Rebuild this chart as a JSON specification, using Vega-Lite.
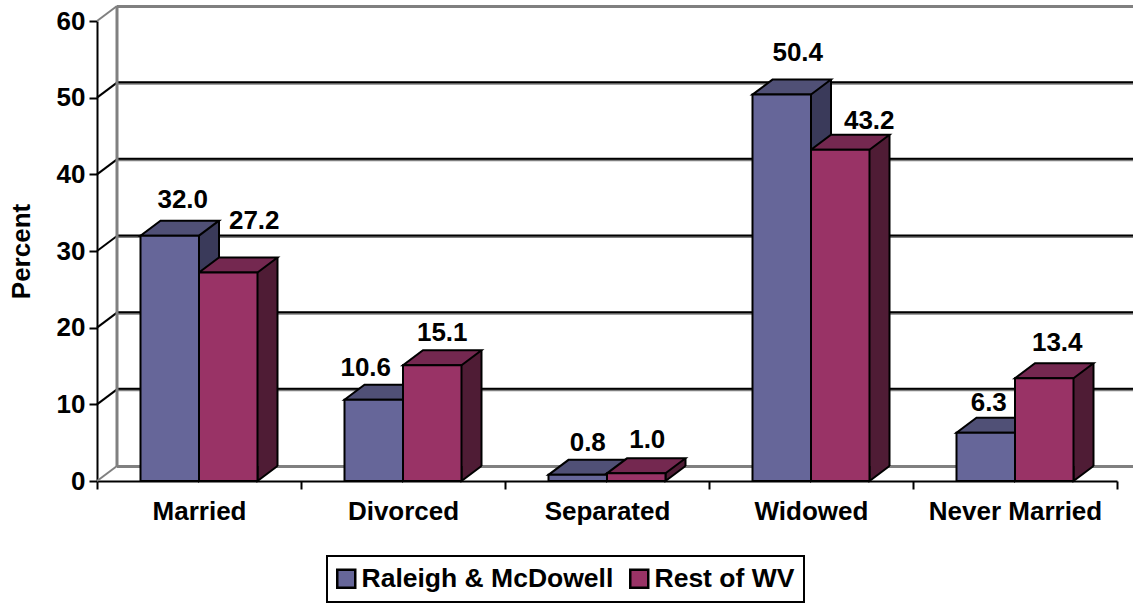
{"$schema":"https://vega.github.io/schema/vega-lite/v6.json","width":1020,"height":460,"autosize":"none","padding":{"left":97,"top":21,"right":16,"bottom":123},"background":"white",
"config":{"font":"Liberation Sans","view":{"stroke":null},"text":{"font":"Liberation Sans"}},
"datasets":{"bars":[
{"category":"Married","series":"Raleigh & McDowell","value":32.0},{"category":"Married","series":"Rest of WV","value":27.2},
{"category":"Divorced","series":"Raleigh & McDowell","value":10.6},{"category":"Divorced","series":"Rest of WV","value":15.1},
{"category":"Separated","series":"Raleigh & McDowell","value":0.8},{"category":"Separated","series":"Rest of WV","value":1.0},
{"category":"Widowed","series":"Raleigh & McDowell","value":50.4},{"category":"Widowed","series":"Rest of WV","value":43.2},
{"category":"Never Married","series":"Raleigh & McDowell","value":6.3},{"category":"Never Married","series":"Rest of WV","value":13.4}],
"ticks":[{"tick":0},{"tick":10},{"tick":20},{"tick":30},{"tick":40},{"tick":50},{"tick":60}],
"wall":[{"low":0,"high":60}]},
"layer":[
{"data":{"name":"ticks"},"mark":{"type":"rule","stroke":"#808080","strokeWidth":3,"yOffset":-14.5,"y2Offset":-14.5},"encoding":{"x":{"value":20},"x2":{"value":1040},"y":{"field":"tick","type":"quantitative","scale":{"domain":[0,60],"nice":false},"title":"Percent","axis":{"values":[0,10,20,30,40,50,60],"grid":false,"domainColor":"black","domainWidth":2,"tickColor":"black","tickWidth":2,"tickSize":8,"labelFontSize":26,"labelFontWeight":"bold","labelColor":"black","labelPadding":4,"titleFontSize":26,"titleFontWeight":"bold","titleColor":"black","titlePadding":22}}}},
{"data":{"name":"ticks"},"transform":[{"filter":"datum.tick>0&&datum.tick<60"}],"mark":{"type":"rule","stroke":"black","strokeWidth":2,"yOffset":-15.5,"y2Offset":-15.5},"encoding":{"x":{"value":20},"x2":{"value":1040},"y":{"field":"tick","type":"quantitative"}}},
{"data":{"name":"ticks"},"mark":{"type":"point","shape":"M0,0L20,-15","size":4,"filled":false,"strokeWidth":2,"opacity":1},"encoding":{"x":{"value":0},"y":{"field":"tick","type":"quantitative"},"stroke":{"condition":{"test":"datum.tick==0||datum.tick==60","value":"#808080"},"value":"black"}}},
{"data":{"name":"wall"},"mark":{"type":"rule","stroke":"#808080","strokeWidth":3,"xOffset":20,"yOffset":-15,"y2Offset":-15},"encoding":{"x":{"value":0},"y":{"field":"high","type":"quantitative"},"y2":{"field":"low"}}},
{"data":{"name":"bars"},
"encoding":{"x":{"field":"category","type":"nominal","sort":["Married","Divorced","Separated","Widowed","Never Married"],"scale":{"paddingInner":0,"paddingOuter":0,"round":false},"title":null,"axis":{"tickBand":"extent","labelAngle":0,"domainColor":"black","domainWidth":2,"tickColor":"black","tickWidth":2,"tickSize":8,"labelFontSize":26,"labelFontWeight":"bold","labelColor":"black","labelPadding":9}},
"y":{"field":"value","type":"quantitative"}},
"layer":[
{"transform":[{"filter":"datum.series=='Raleigh & McDowell'"}],"mark":{"type":"bar","width":58.5,"xOffset":-9.25,"yOffset":-15,"y2Offset":-15,"fill":"#3a3a5a"}},
{"transform":[{"filter":"datum.series=='Rest of WV'"}],"mark":{"type":"bar","width":58.5,"xOffset":49.25,"yOffset":-15,"y2Offset":-15,"fill":"#4f1c35"}},
{"transform":[{"filter":"datum.series=='Raleigh & McDowell'"}],"mark":{"type":"rule","stroke":"black","strokeWidth":2,"xOffset":20,"yOffset":-15,"y2Offset":-15},"encoding":{"y2":{"datum":0}}},
{"transform":[{"filter":"datum.series=='Rest of WV'"}],"mark":{"type":"rule","stroke":"black","strokeWidth":2,"xOffset":78.5,"yOffset":-15,"y2Offset":-15},"encoding":{"y2":{"datum":0}}},
{"encoding":{"xOffset":{"field":"series","type":"nominal","sort":["Raleigh & McDowell","Rest of WV"],"scale":{"paddingInner":0,"paddingOuter":0.7436}}},
"layer":[
{"mark":{"type":"point","shape":"M29.25,-15L29.25,0L49.25,-15","size":4,"filled":true,"stroke":"black","strokeWidth":2,"opacity":1},"encoding":{"y":{"datum":0},"fill":{"condition":{"test":"datum.series=='Rest of WV'","value":"#4f1c35"},"value":"#3a3a5a"}}},
{"mark":{"type":"point","shape":"M-29.25,0L29.25,0L49.25,-15L-9.25,-15Z","size":4,"filled":true,"stroke":"black","strokeWidth":2,"opacity":1},"encoding":{"fill":{"condition":{"test":"datum.series=='Rest of WV'","value":"#742850"},"value":"#505076"}}},
{"mark":{"type":"bar","stroke":"black","strokeWidth":2},"encoding":{"color":{"field":"series","type":"nominal","sort":["Raleigh & McDowell","Rest of WV"],"scale":{"domain":["Raleigh & McDowell","Rest of WV"],"range":["#666699","#993366"]},"legend":{"title":null,"orient":"none","legendX":230,"legendY":535,"direction":"horizontal","columns":2,"symbolType":"square","symbolSize":324,"symbolOffset":-3,"symbolStrokeColor":"black","symbolStrokeWidth":2.5,"symbolOpacity":1,"labelFontSize":26.5,"labelFontWeight":"bold","labelColor":"black","labelLimit":400,"labelOffset":2,"columnPadding":11,"padding":9,"strokeColor":"black","encode":{"legend":{"update":{"strokeWidth":{"value":2}}}}}}}},
{"transform":[{"filter":"datum.category=='Married'&&datum.series=='Raleigh & McDowell'"}],"mark":{"type":"text","dx":13,"dy":-36,"fontSize":26,"fontWeight":"bold","color":"black"},"encoding":{"text":{"field":"value","format":".1f"}}},
{"transform":[{"filter":"datum.category=='Married'&&datum.series=='Rest of WV'"}],"mark":{"type":"text","dx":26,"dy":-51,"fontSize":26,"fontWeight":"bold","color":"black"},"encoding":{"text":{"field":"value","format":".1f"}}},
{"transform":[{"filter":"datum.category=='Divorced'&&datum.series=='Raleigh & McDowell'"}],"mark":{"type":"text","dx":-8,"dy":-32,"fontSize":26,"fontWeight":"bold","color":"black"},"encoding":{"text":{"field":"value","format":".1f"}}},
{"transform":[{"filter":"datum.category=='Divorced'&&datum.series=='Rest of WV'"}],"mark":{"type":"text","dx":10,"dy":-32,"fontSize":26,"fontWeight":"bold","color":"black"},"encoding":{"text":{"field":"value","format":".1f"}}},
{"transform":[{"filter":"datum.category=='Separated'&&datum.series=='Raleigh & McDowell'"}],"mark":{"type":"text","dx":10,"dy":-32,"fontSize":26,"fontWeight":"bold","color":"black"},"encoding":{"text":{"field":"value","format":".1f"}}},
{"transform":[{"filter":"datum.category=='Separated'&&datum.series=='Rest of WV'"}],"mark":{"type":"text","dx":11,"dy":-33,"fontSize":26,"fontWeight":"bold","color":"black"},"encoding":{"text":{"field":"value","format":".1f"}}},
{"transform":[{"filter":"datum.category=='Widowed'&&datum.series=='Raleigh & McDowell'"}],"mark":{"type":"text","dx":16,"dy":-42,"fontSize":26,"fontWeight":"bold","color":"black"},"encoding":{"text":{"field":"value","format":".1f"}}},
{"transform":[{"filter":"datum.category=='Widowed'&&datum.series=='Rest of WV'"}],"mark":{"type":"text","dx":29,"dy":-29,"fontSize":26,"fontWeight":"bold","color":"black"},"encoding":{"text":{"field":"value","format":".1f"}}},
{"transform":[{"filter":"datum.category=='Never Married'&&datum.series=='Raleigh & McDowell'"}],"mark":{"type":"text","dx":3,"dy":-30,"fontSize":26,"fontWeight":"bold","color":"black"},"encoding":{"text":{"field":"value","format":".1f"}}},
{"transform":[{"filter":"datum.category=='Never Married'&&datum.series=='Rest of WV'"}],"mark":{"type":"text","dx":13,"dy":-35,"fontSize":26,"fontWeight":"bold","color":"black"},"encoding":{"text":{"field":"value","format":".1f"}}}
]}
]}
]}
